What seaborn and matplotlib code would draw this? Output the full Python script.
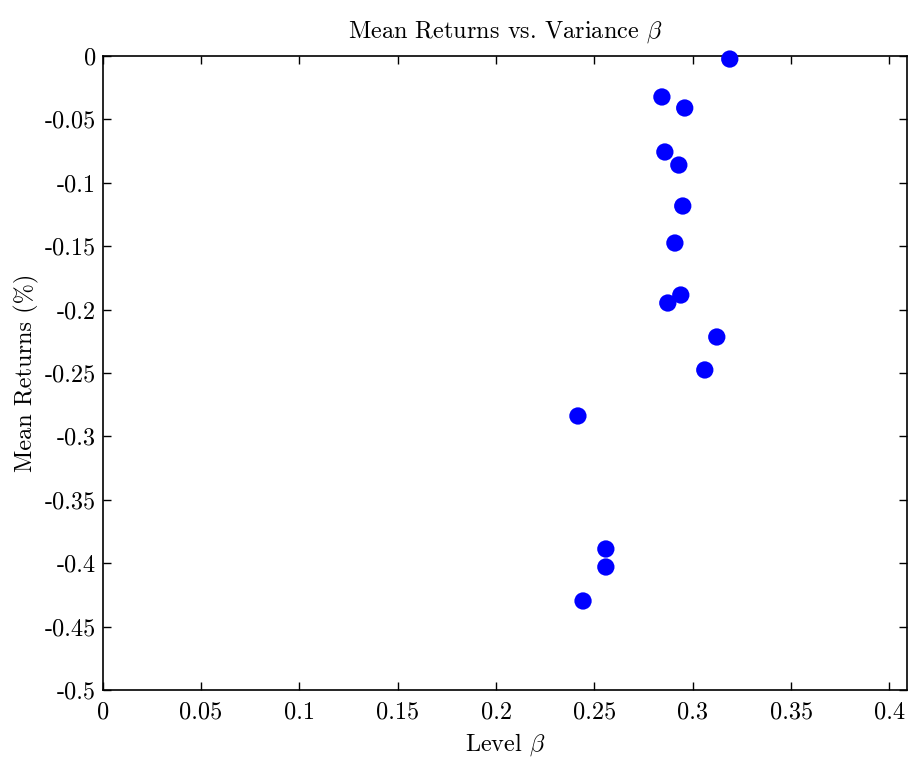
import seaborn as sns
import pandas as pd
import numpy as np
import matplotlib.pyplot as plt

level_beta = [0.3188, 0.2843, 0.2959, 0.2858, 0.2929, 0.2949, 0.2909, 0.2939,
              0.2873, 0.3122, 0.3061, 0.2416, 0.2558, 0.2558, 0.2442]
mean_returns = [-0.0024, -0.0323, -0.0410, -0.0757, -0.0860, -0.1183, -0.1475, -0.1885,
                -0.1948, -0.2216, -0.2476, -0.2839, -0.3888, -0.4030, -0.4298]

xticks = [0, 0.05, 0.1, 0.15, 0.2, 0.25, 0.3, 0.35, 0.4]
yticks = [0, -0.05, -0.1, -0.15, -0.2, -0.25, -0.3, -0.35, -0.4, -0.45, -0.5]

sns.set_style('ticks')
plt.rcParams['font.family'] = ['cmr10', 'DejaVu Serif']
plt.rcParams['mathtext.fontset'] = 'cm'
plt.rcParams['axes.unicode_minus'] = False
plt.rcParams['axes.formatter.use_mathtext'] = True
plt.rcParams['text.color'] = 'black'
plt.rcParams['axes.labelcolor'] = 'black'

df = pd.DataFrame({'beta': level_beta, 'ret': mean_returns})

fig = plt.figure(figsize=(9.09, 7.62), dpi=100)
ax = fig.add_axes([0.113, 0.0945, 0.885, 0.832])
sns.scatterplot(data=df, x='beta', y='ret', color='#0000ff', s=155,
                edgecolor='none', ax=ax, zorder=3, clip_on=False)

ax.set_xlim(0, 0.409)
ax.set_ylim(-0.5, 0)
ax.set_xticks(xticks)
ax.set_xticklabels(['%g' % t for t in xticks])
ax.set_yticks(yticks)
ax.set_yticklabels(['%g' % t for t in yticks])
ax.tick_params(direction='in', top=True, right=True, length=6, width=1,
               labelsize=17.5, pad=5, colors='black')
ax.tick_params(axis='x', pad=8)
for sp in ax.spines.values():
    sp.set_linewidth(1.2)
    sp.set_color('black')

ax.set_title(r'Mean Returns vs. Variance $\beta$', fontsize=17.5, pad=13)
ax.set_xlabel(r'Level $\beta$', fontsize=17.5, labelpad=6)
ax.set_ylabel('Mean Returns (%)', fontsize=17.5, labelpad=4)

fig.savefig('out.png', dpi=100)
